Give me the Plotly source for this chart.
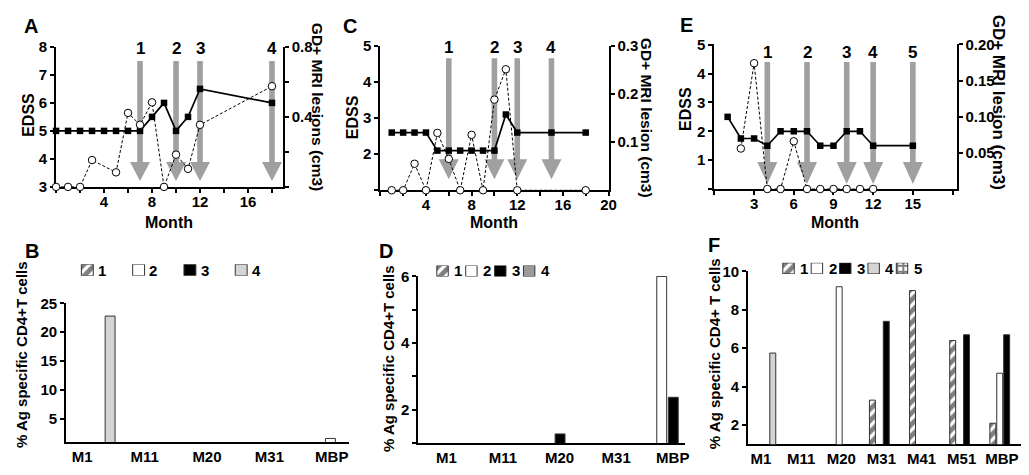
import plotly.graph_objects as go

W, H = 1029, 475
FONT = "Liberation Sans, Arial, sans-serif"
ARROW = "#a0a0a0"

# ---------------- data: top panels (EDSS / MRI) ----------------
a_edss_month = [0, 1, 2, 3, 4, 5, 6, 7, 8, 9, 10, 11, 12, 18]
a_edss = [5, 5, 5, 5, 5, 5, 5, 5, 5.5, 6, 5, 5.5, 6.5, 6]
a_mri_month = [0, 1, 2, 3, 5, 6, 7, 8, 9, 10, 11, 12, 18]
a_mri = [0, 0, 0, 0.153, 0.083, 0.422, 0.354, 0.482, 0, 0.184, 0.103, 0.354, 0.574]
a_arrows = [7, 10, 12, 18]

c_edss_month = [1, 2, 3, 4, 5, 6, 7, 8, 9, 10, 11, 12, 15, 18]
c_edss = [2.6, 2.6, 2.6, 2.6, 2.1, 2.1, 2.1, 2.1, 2.1, 2.1, 3.1, 2.6, 2.6, 2.6]
c_mri_month = [1, 2, 3, 4, 5, 6, 7, 8, 9, 10, 11, 12, 18]
c_mri = [0, 0, 0.055, 0, 0.119, 0.065, 0, 0.115, 0, 0.188, 0.251, 0, 0]
c_arrows = [6, 10, 12, 15]

e_edss_month = [1, 2, 3, 4, 5, 6, 7, 8, 9, 10, 11, 12, 15]
e_edss = [2.5, 1.75, 1.75, 1.5, 2, 2, 2, 1.5, 1.5, 2, 2, 1.5, 1.5]
e_mri_month = [2, 3, 4, 5, 6, 7, 8, 9, 10, 11, 12]
e_mri = [0.056, 0.174, 0, 0, 0.066, 0, 0, 0, 0, 0, 0]
e_arrows = [4, 7, 10, 12, 15]

# ---------------- data: bottom panels (% Ag specific CD4+ T cells) ----------------
b_cats = ["M1", "M11", "M20", "M31", "MBP"]
b_s1 = [0, 0, 0, 0, 0]
b_s2 = [0, 0, 0, 0, 1.6]
b_s3 = [0, 0, 0, 0, 0]
b_s4 = [22.8, 0, 0, 0, 0]

d_cats = ["M1", "M11", "M20", "M31", "MBP"]
d_s1 = [0, 0, 0, 0, 0]
d_s2 = [0, 0, 0, 0, 6.0]
d_s3 = [0, 0, 1.27, 0, 2.37]
d_s4 = [0, 0, 0, 0, 0]

f_cats = ["M1", "M11", "M20", "M31", "M41", "M51", "MBP"]
f_s1 = [0, 0, 0, 3.3, 9.0, 6.4, 2.1]
f_s2 = [0, 0, 9.2, 0, 0, 0, 4.7]
f_s3 = [0, 0, 0, 7.4, 0, 6.7, 6.7]
f_s4 = [5.75, 0, 0, 0, 0, 0, 0]
f_s5 = [0, 0, 0, 0, 0, 0, 0]

series_names = ["1", "2", "3", "4", "5"]


def dx(a, b):
    return [a / W, b / W]


def dy(top, bot):
    return [1 - bot / H, 1 - top / H]


def tfont(size=15):
    return dict(family=FONT, size=size, color="black", weight="bold")


AX = dict(showline=True, linecolor="black", linewidth=2, ticks="outside", ticklen=4,
          tickwidth=1.5, tickcolor="black", showgrid=False, zeroline=False,
          tickfont=tfont(15), layer="below traces", fixedrange=True)


def labels(vals, show):
    return [(str(v) if v in show else "") for v in vals]


fig = go.Figure()
shapes, annots = [], []


def series_marker(k, gray4):
    base = dict(line=dict(color="#333333", width=1))
    if k == 0:
        return dict(color="white", pattern=dict(shape="/", fgcolor="black", bgcolor="white",
                                                size=8, solidity=0.6), **base)
    if k == 1:
        return dict(color="white", **base)
    if k == 2:
        return dict(color="black", **base)
    if k == 3:
        return dict(color=gray4, **base)
    return dict(color="white", pattern=dict(shape="+", fgcolor="black", bgcolor="white",
                                            size=6, solidity=0.55), **base)


def top_panel(xa, ya, ya2, months_e, edss, months_m, mri, arrows, geom):
    fig.add_trace(go.Scatter(x=months_m, y=mri, xaxis=xa, yaxis=ya2, mode="lines+markers",
                             line=dict(color="black", width=1, dash="3px,2px"),
                             marker=dict(symbol="circle", size=7.5, color="white",
                                         line=dict(color="black", width=1)),
                             cliponaxis=False, showlegend=False))
    fig.add_trace(go.Scatter(x=months_e, y=edss, xaxis=xa, yaxis=ya, mode="lines+markers",
                             line=dict(color="black", width=1.7),
                             marker=dict(symbol="square", size=6.5, color="black"),
                             cliponaxis=False, showlegend=False))
    tb, hb, top, lab = geom
    path = (f"M-2.8,{top} L2.8,{top} L2.8,{hb} L10,{hb} L0,{tb} L-10,{hb} "
            f"L-2.8,{hb} Z")
    xref = xa
    yref = ya + " domain"
    for i, m in enumerate(arrows):
        shapes.append(dict(type="path", xref=xref, yref=yref, xsizemode="pixel",
                           ysizemode="pixel", xanchor=m, yanchor=0, path=path,
                           fillcolor=ARROW, line=dict(width=0), layer="below"))
        annots.append(dict(x=m, y=0, xref=xref, yref=yref, yshift=lab, text=str(i + 1),
                           showarrow=False, yanchor="middle", font=tfont(17)))


top_panel("x", "y", "y2", a_edss_month, a_edss, a_mri_month, a_mri, a_arrows,
          (6, 25, 126, 138))
top_panel("x2", "y3", "y4", c_edss_month, c_edss, c_mri_month, c_mri, c_arrows,
          (11, 31, 132, 143))
top_panel("x3", "y5", "y6", e_edss_month, e_edss, e_mri_month, e_mri, e_arrows,
          (5, 27, 127, 137))


def bar_panel(xa, ya, cats, series, centers, width, gray4):
    for k, vals in enumerate(series):
        fig.add_trace(go.Bar(x=cats, y=vals, xaxis=xa, yaxis=ya, width=width,
                             offset=centers[k] - width / 2,
                             marker=series_marker(k, gray4), showlegend=False,
                             hoverinfo="x+y"))


bar_panel("x4", "y7", b_cats, [b_s1, b_s2, b_s3, b_s4],
          [-0.258, -0.022, 0.213, 0.448], 0.159, "#d4d4d4")
bar_panel("x5", "y8", d_cats, [d_s1, d_s2, d_s3, d_s4],
          [-0.398, -0.195, 0.009, 0.212], 0.175, "#9a9a9a")
bar_panel("x6", "y9", f_cats, [f_s1, f_s2, f_s3, f_s4, f_s5],
          [-0.224, -0.052, 0.121, 0.294, 0.467], 0.148, "#d4d4d4")


# ---------------- legend strips (swatches drawn as bars on hidden axes) ----------------
def legend_strip(xa, ya, n, x0, pitch, yc, box, text_dx, gray4):
    xname = "xaxis" + xa[1:]
    yname = "yaxis" + ya[1:]
    fig.layout[xname] = dict(domain=dx(x0 - pitch / 2, x0 + n * pitch),
                             range=[-0.5, n], visible=False, anchor=ya,
                             fixedrange=True)
    fig.layout[yname] = dict(domain=dy(yc - box / 2, yc + box / 2), range=[0, 1],
                             visible=False, anchor=xa, fixedrange=True)
    for k in range(n):
        fig.add_trace(go.Bar(x=[k], y=[1], base=0, xaxis=xa, yaxis=ya, width=box / pitch,
                             marker=series_marker(k, gray4), showlegend=False,
                             hoverinfo="skip"))
        annots.append(dict(x=k + text_dx / pitch, y=0.5, xref=xa, yref=ya,
                           text=series_names[k], showarrow=False, xanchor="center",
                           yanchor="middle", font=tfont(15)))


legend_strip("x7", "y10", 4, 88, 51.7, 270.7, 12, 15, "#d4d4d4")
legend_strip("x8", "y11", 4, 446, 29.1, 271.7, 11.5, 16, "#9a9a9a")
legend_strip("x9", "y12", 5, 794.7, 28.6, 269, 11.5, 16, "#d4d4d4")

# ---------------- axes ----------------
TOPX = dict(AX, ticklabelstandoff=-4)
a_xt = list(range(0, 19, 2))
c_xt = list(range(0, 21, 2))
e_xt = list(range(0, 19, 3))
fig.update_layout(
    xaxis=dict(TOPX, domain=dx(56.5, 285), anchor="y", range=[0, 18.9], tickvals=a_xt,
               ticktext=labels(a_xt, [4, 8, 12, 16])),
    yaxis=dict(AX, domain=dy(39, 184.5), anchor="x", range=[3, 8.01],
               tickvals=[3, 4, 5, 6, 7, 8]),
    yaxis2=dict(AX, overlaying="y", side="right", anchor="x", range=[0, 0.8],
                tickvals=[0, 0.2, 0.4, 0.6, 0.8], ticktext=["", "", "0.4", "", "0.8"]),
    xaxis2=dict(TOPX, domain=dx(383.3, 613.3), anchor="y3", range=[0, 20], tickvals=c_xt,
                ticktext=labels(c_xt, [4, 8, 12, 16, 20])),
    yaxis3=dict(AX, domain=dy(38, 188), anchor="x2", range=[1, 5.01],
                tickvals=[1, 2, 3, 4, 5], ticktext=["", "2", "3", "4", "5"]),
    yaxis4=dict(AX, overlaying="y3", side="right", anchor="x2", range=[0, 0.3],
                tickvals=[0.1, 0.2, 0.3], ticktext=["0.1", "0.2", "0.3"]),
    xaxis3=dict(TOPX, domain=dx(720, 964), anchor="y5", range=[0, 18.3], tickvals=e_xt,
                ticktext=labels(e_xt, [3, 6, 9, 12, 15])),
    yaxis5=dict(AX, domain=dy(36.7, 186.7), anchor="x3", range=[0, 5.01],
                tickvals=[0, 1, 2, 3, 4, 5], ticktext=["", "1", "2", "3", "4", "5"]),
    yaxis6=dict(AX, overlaying="y5", side="right", anchor="x3", range=[0, 0.2],
                tickvals=[0.05, 0.1, 0.15, 0.2], ticktext=["0.05", "0.10", "0.15", "0.20"]),
    xaxis4=dict(AX, domain=dx(66.7, 352), anchor="y7", type="category",
                categoryorder="array", categoryarray=b_cats, range=[-0.256, 4.28], ticks=""),
    yaxis7=dict(AX, domain=dy(305, 449), anchor="x4", range=[1, 25.05],
                tickvals=[5, 10, 15, 20, 25]),
    xaxis5=dict(AX, domain=dx(421.7, 690), anchor="y8", type="category",
                categoryorder="array", categoryarray=d_cats, range=[-0.494, 4.21], ticks=""),
    yaxis8=dict(AX, domain=dy(277, 450), anchor="x5", range=[1, 6.01],
                tickvals=[1, 2, 3, 4, 5, 6], ticktext=["", "2", "", "4", "", "6"]),
    xaxis6=dict(AX, domain=dx(754, 1029), anchor="y9", type="category",
                categoryorder="array", categoryarray=f_cats, range=[-0.32, 6.478], ticks=""),
    yaxis9=dict(AX, domain=dy(271.7, 451.5), anchor="x6", range=[1, 10.02],
                tickvals=[2, 4, 6, 8, 10]),
)


# ---------------- titles / panel letters ----------------
def ptext(x, y, text, size, angle=0):
    annots.append(dict(x=x / W, y=1 - y / H, xref="paper", yref="paper", text=text,
                       showarrow=False, xanchor="center", yanchor="middle",
                       textangle=angle, font=tfont(size)))


for letter, x, y in [("A", 31, 18), ("C", 353, 18), ("E", 692, 17),
                     ("B", 32, 251), ("D", 389, 251), ("F", 720, 245)]:
    ptext(x, y, letter, 20)

ptext(28, 110, "EDSS", 16, -90)
ptext(356, 112, "EDSS", 16, -90)
ptext(691, 104, "EDSS", 16, -90)
ptext(170.7, 221, "Month", 16)
ptext(498, 221, "Month", 16)
ptext(842, 221, "Month", 16)
ptext(320, 101, "GD+ MRI lesions (cm3)", 15.5, 90)
ptext(651.7, 112.5, "GD+ MRI lesion (cm3)", 15.5, 90)
ptext(1006.7, 97, "GD+ MRI lesion (cm3)", 17, 90)
ptext(21, 358, "% Ag specific CD4+T cells", 15, -90)
ptext(391, 362, "% Ag specific CD4+T cells", 15, -90)
ptext(719.5, 357, "% Ag specific CD4+ T cells", 15, -90)

fig.update_layout(width=W, height=H, margin=dict(l=0, r=0, t=0, b=0),
                  paper_bgcolor="white", plot_bgcolor="rgba(0,0,0,0)",
                  showlegend=False, barmode="overlay", shapes=shapes, annotations=annots,
                  font=dict(family=FONT, color="black"))

fig.write_html("out.html", config={"displayModeBar": False},
               post_script="document.body.style.margin='0px';")
